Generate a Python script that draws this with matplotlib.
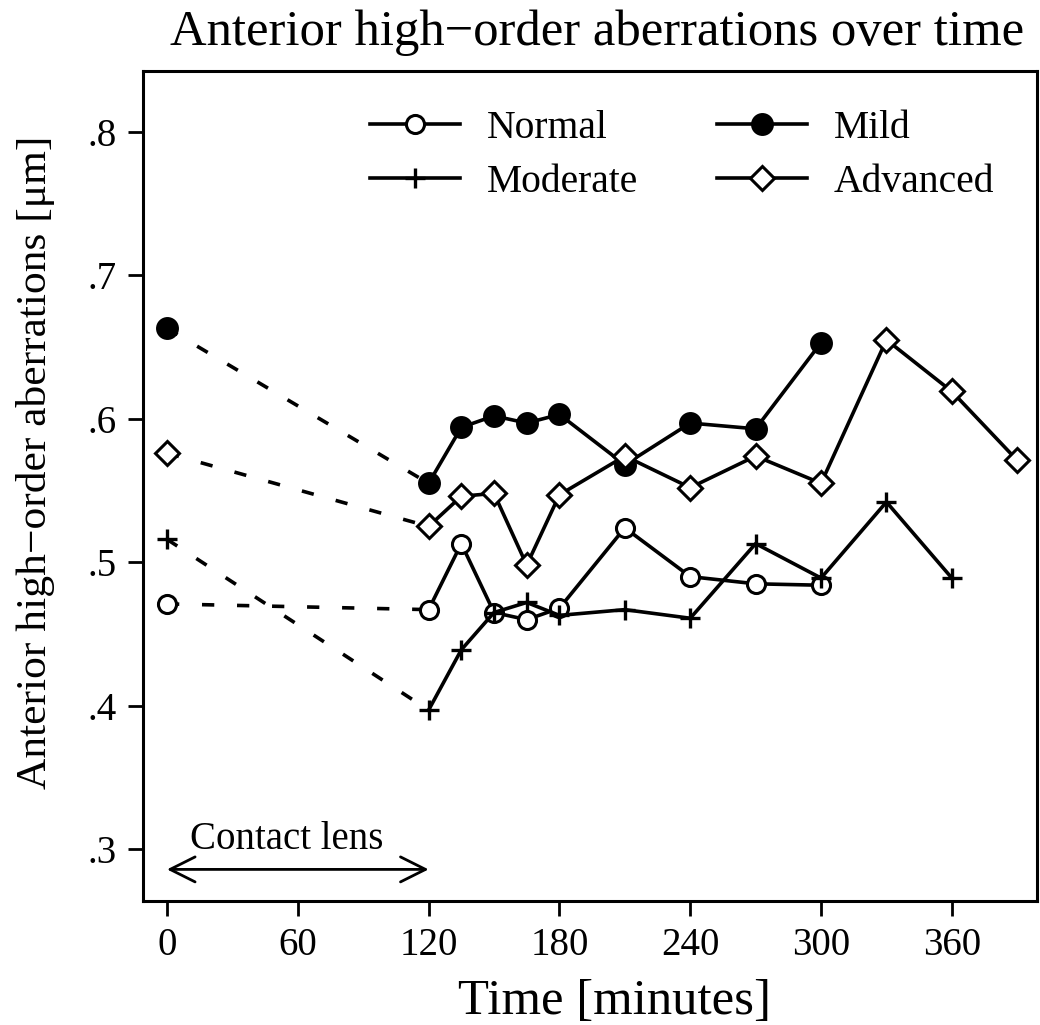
import matplotlib
matplotlib.use("Agg")
import matplotlib.pyplot as plt

plt.rcParams['font.family'] = ['Liberation Serif', 'DejaVu Serif']

# time points (minutes) and values per severity group
normal_t = [0, 120, 135, 150, 165, 180, 210, 240, 270, 300]
normal = [0.471, 0.467, 0.513, 0.465, 0.460, 0.468, 0.524, 0.490, 0.485, 0.484]

mild_t = [0, 120, 135, 150, 165, 180, 210, 240, 270, 300]
mild = [0.663, 0.555, 0.594, 0.602, 0.597, 0.603, 0.568, 0.597, 0.593, 0.653]

moderate_t = [0, 120, 135, 150, 165, 180, 210, 240, 270, 300, 330, 360]
moderate = [0.516, 0.397, 0.439, 0.465, 0.472, 0.463, 0.467, 0.461, 0.513, 0.489, 0.542, 0.489]

advanced_t = [0, 120, 135, 150, 165, 180, 210, 240, 270, 300, 330, 360, 390]
advanced = [0.576, 0.525, 0.546, 0.548, 0.498, 0.547, 0.574, 0.552, 0.574, 0.555, 0.655, 0.619, 0.571]

x_ticks = [0, 60, 120, 180, 240, 300, 360]
y_ticks = [0.3, 0.4, 0.5, 0.6, 0.7, 0.8]
y_ticklabels = ['.3', '.4', '.5', '.6', '.7', '.8']

fig = plt.figure(figsize=(10.4, 10.25), dpi=100)
ax = fig.add_axes([0.1375, 0.121, 0.8595, 0.81])

lw = 2.6
series = {
    "Normal": (normal_t, normal, dict(marker='o', markersize=13, markerfacecolor='white', markeredgewidth=2.2)),
    "Mild": (mild_t, mild, dict(marker='o', markersize=14.5, markerfacecolor='black', markeredgewidth=2)),
    "Moderate": (moderate_t, moderate, dict(marker='+', markersize=15, markeredgewidth=2.4)),
    "Advanced": (advanced_t, advanced, dict(marker='D', markersize=12.5, markerfacecolor='white', markeredgewidth=2.2)),
}

handles = {}
for name, (t, v, mk) in series.items():
    # dashed link from baseline to first post-lens measurement
    ax.plot(t[:2], v[:2], linestyle=(0, (3.4, 6.3)), color='black', lw=lw, zorder=2)
    ax.plot(t[:1], v[:1], linestyle='none', color='black', zorder=3, **mk)
    h, = ax.plot(t[1:], v[1:], linestyle='-', color='black', lw=lw, zorder=3, **mk)
    handles[name] = h

# contact lens period
ax.annotate('', xy=(0, 0.286), xytext=(120, 0.286),
            arrowprops=dict(arrowstyle='<->,head_length=0.6,head_width=0.3',
                            color='black', lw=2, mutation_scale=30, shrinkA=0, shrinkB=0))
ax.text(10.5, 0.307, 'Contact lens', fontsize=28, ha='left', va='center')

ax.set_xlim(-11, 399)
ax.set_ylim(0.264, 0.8425)
ax.set_xticks(x_ticks)
ax.set_yticks(y_ticks)
ax.set_yticklabels(y_ticklabels)
ax.tick_params(direction='out', length=11, width=2, labelsize=28, pad=8)

for s in ax.spines.values():
    s.set_linewidth(2.2)

ax.set_xlabel('Time [minutes]', fontsize=36.5)
ax.xaxis.set_label_coords(0.528, -0.093)
ax.set_ylabel('Anterior high\u2212order aberrations [\u03bcm]', fontsize=31.3)
ax.yaxis.set_label_coords(-0.098, 0.528)
fig.text(0.574, 0.968, 'Anterior high\u2212order aberrations over time', fontsize=36.5,
         ha='center', va='center')

# order so that rows read Normal/Mild, Moderate/Advanced
order = ["Normal", "Moderate", "Mild", "Advanced"]
ax.legend([handles[k] for k in order], order, ncol=2, loc='upper left',
          bbox_to_anchor=(0.3558, 0.893), bbox_transform=fig.transFigure,
          frameon=False, fontsize=28.5, borderpad=0, borderaxespad=0,
          handlelength=2.27, columnspacing=2.0, handletextpad=0.68, labelspacing=0.44)

fig.savefig('out.png', dpi=100)
